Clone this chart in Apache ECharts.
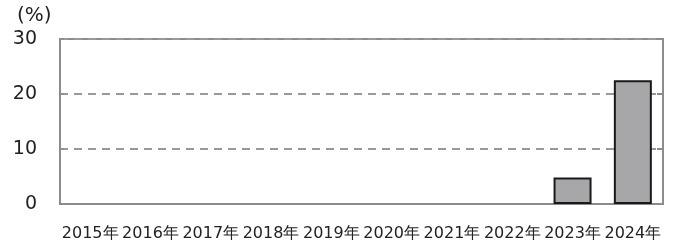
<!DOCTYPE html>
<html>
<head>
<meta charset="utf-8">
<script src="https://cdn.jsdelivr.net/npm/echarts@6/dist/echarts.min.js"></script>
<style>
  html, body { margin: 0; padding: 0; background: #fff; }
  #main { width: 676px; height: 244px; }
</style>
</head>
<body>
<div id="main"></div>
<script>
// data
const years = ['2015年', '2016年', '2017年', '2018年', '2019年', '2020年', '2021年', '2022年', '2023年', '2024年'];
const shares = [null, null, null, null, null, null, null, null, 4.8, 22.5];
const yTicks = [0, 10, 20, 30];

const font = '"DejaVu Sans", Verdana, sans-serif';
const lineGrey = '#8c8c8c';

const chart = echarts.init(document.getElementById('main'), null, { renderer: 'canvas' });

chart.setOption({
  animation: false,
  title: {
    text: '(%)',
    left: 12,
    top: 1,
    textStyle: { fontFamily: font, fontSize: 20, fontWeight: 'normal', color: '#222' }
  },
  grid: {
    left: 60, right: 13, top: 39, bottom: 40,
    show: true, borderColor: lineGrey, borderWidth: 2, backgroundColor: 'transparent'
  },
  xAxis: {
    type: 'category',
    data: years,
    boundaryGap: true,
    axisLine: { lineStyle: { color: lineGrey, width: 2 } },
    axisTick: { inside: true, length: 4, lineStyle: { color: lineGrey, width: 1.5 } },
    axisLabel: { fontFamily: font, fontSize: 16, color: '#222', margin: 22, interval: 0 }
  },
  yAxis: [
    {
      type: 'value',
      min: yTicks[0],
      max: yTicks[yTicks.length - 1],
      interval: 10,
      axisLine: { show: true, lineStyle: { color: lineGrey, width: 2 } },
      axisTick: { show: true, inside: true, length: 4, lineStyle: { color: lineGrey, width: 1.5 } },
      axisLabel: { fontFamily: font, fontSize: 19, color: '#222', margin: 23 },
      splitLine: { lineStyle: { color: '#999', width: 2, type: [8, 6] } }
    },
    {
      type: 'value',
      position: 'right',
      min: yTicks[0],
      max: yTicks[yTicks.length - 1],
      interval: 10,
      axisLine: { show: true, lineStyle: { color: lineGrey, width: 2 } },
      axisTick: { show: true, inside: true, length: 6, lineStyle: { color: lineGrey, width: 2 } },
      axisLabel: { show: false },
      splitLine: { show: false }
    }
  ],
  series: [{
    type: 'bar',
    data: shares,
    barWidth: '63%',
    itemStyle: { color: '#a7a7a9', borderColor: '#1a1a1a', borderWidth: 2 }
  }]
});
</script>
</body>
</html>
